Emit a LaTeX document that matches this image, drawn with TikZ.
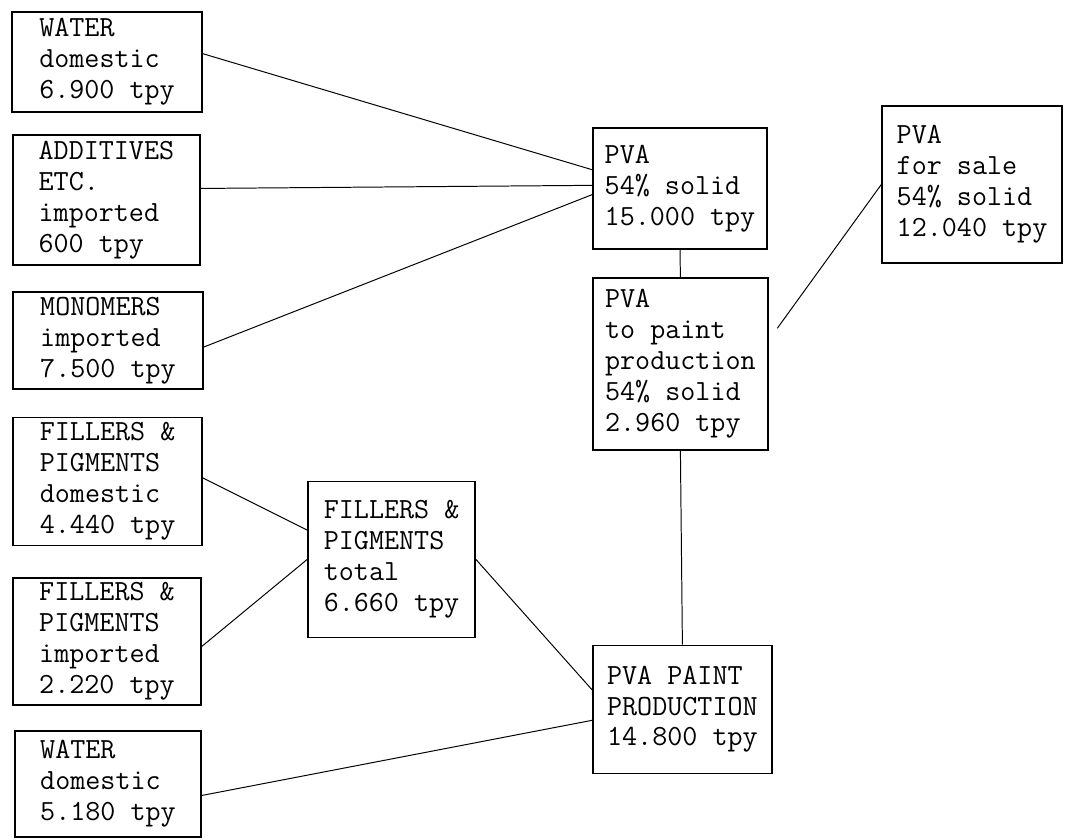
\documentclass[tikz,border=0pt]{standalone}
\usepackage{tikz}
\usetikzlibrary{positioning}

\begin{document}
\begin{tikzpicture}[
    flowbox/.style 2 args={draw, line width=0.9pt, rectangle, align=left,
        minimum width=#1, minimum height=#2, inner sep=2pt,
        font=\ttfamily\fontsize{20.8}{22}\selectfont},
    flowline/.style={line width=0.7pt}
]

\useasboundingbox (0,0) rectangle (26.675,-20.975);

% === Inputs to PVA ===
\node[flowbox={4.75cm}{2.5cm}] (water1) at (2.675,-1.55)
     {WATER\\domestic\\6.900 tpy};
\node[flowbox={4.675cm}{3.25cm}] (additives) at (2.66,-5.0)
     {ADDITIVES\\ETC.\\imported\\600 tpy};
\node[flowbox={4.75cm}{2.425cm}] (monomers) at (2.7,-8.51)
     {MONOMERS\\imported\\7.500 tpy};

% === Inputs to paint ===
\node[flowbox={4.725cm}{3.2cm}] (fillersdom) at (2.69,-12.03)
     {FILLERS \&\\PIGMENTS\\domestic\\4.440 tpy};
\node[flowbox={4.7cm}{3.175cm}] (fillersimp) at (2.675,-16.04)
     {FILLERS \&\\PIGMENTS\\imported\\2.220 tpy};
\node[flowbox={4.65cm}{2.65cm}] (water2) at (2.7,-19.6)
     {WATER\\domestic\\5.180 tpy};

\node[flowbox={4.175cm}{3.9cm}] (fillerstot) at (9.79,-13.98)
     {FILLERS \&\\PIGMENTS\\total\\6.660 tpy};

% === PVA ===
\node[flowbox={4.35cm}{3.025cm}] (pva) at (17.0,-4.71)
     {PVA\\54\% solid\\15.000 tpy};
\node[flowbox={4.375cm}{4.3cm}] (topaint) at (17.01,-9.1)
     {PVA\\to paint\\production\\54\% solid\\2.960 tpy};
\node[flowbox={4.5cm}{3.925cm}] (forsale) at (24.3,-4.61)
     {PVA\\for sale\\54\% solid\\12.040 tpy};

\node[flowbox={4.475cm}{3.2cm}] (paint) at (17.06,-17.73)
     {PVA PAINT\\PRODUCTION\\14.800 tpy};

% Connectors
\draw[flowline] (water1.5) -- (pva.168);
\draw[flowline] (additives.7) -- (pva.178);
\draw[flowline] (monomers.356) -- (pva.184);
\draw[flowline] (pva.south) -- (topaint.north);
\draw[flowline, shorten <=0.375cm] (topaint.15) -- (forsale.west);
\draw[flowline] (topaint.south) -- (paint.north);

\draw[flowline] (fillersdom.2) -- (fillerstot.161);
\draw[flowline] (fillersimp.357) -- (fillerstot.west);
\draw[flowline] (fillerstot.east) -- (paint.168);
\draw[flowline] (water2.353) -- (paint.187);

\end{tikzpicture}
\end{document}
